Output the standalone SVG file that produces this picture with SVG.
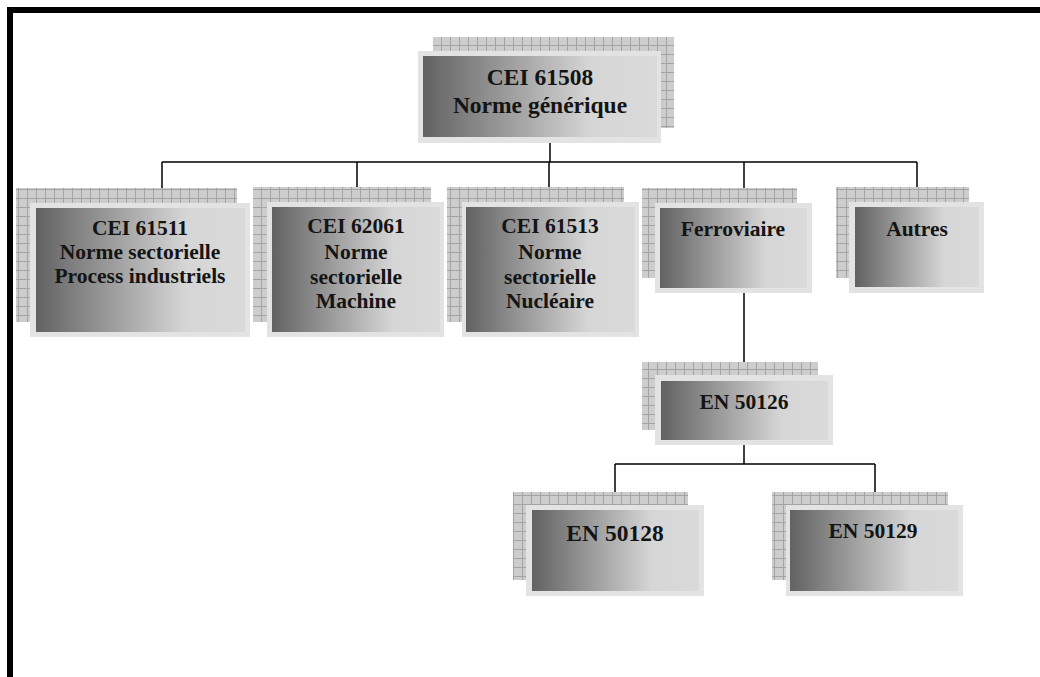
<svg xmlns="http://www.w3.org/2000/svg" width="1040" height="677" viewBox="0 0 1040 677">
<defs>
<pattern id="grid" patternUnits="userSpaceOnUse" width="9" height="9">
<rect width="9" height="9" fill="#cdcdcd"/>
<path d="M0 0.5H9M0.5 0V9" stroke="#a4a4a4" stroke-width="1" fill="none"/>
</pattern>
<linearGradient id="grad" x1="0" y1="0" x2="1" y2="0">
<stop offset="0" stop-color="#626262"/>
<stop offset="0.72" stop-color="#d6d6d6"/>
<stop offset="1" stop-color="#dadada"/>
</linearGradient>
<style>
.sh{fill:url(#grid)}
.ou{fill:#e3e3e3}
.in{fill:url(#grad)}
.t{font-family:"Liberation Serif","Times New Roman",serif;font-weight:bold;fill:#141414;text-anchor:middle;font-size:21.5px}
.c{stroke:#000;stroke-width:1.5;fill:none}
</style>
</defs>
<rect width="1040" height="677" fill="#fff"/>
<path d="M10 677V10H1040" stroke="#000" stroke-width="6" fill="none"/>
<g id="connectors">
<path class="c" d="M550 143V162M162 162H917M162 162V203M357 162V202M549 162V202M744 162V203M917 162V202"/>
<path class="c" d="M744 293V375"/>
<path class="c" d="M744 445V464M615 464H875M615 464V505M875 464V505"/>
</g>
<g id="n-cei61508">
<rect class="sh" x="433" y="37" width="241" height="91"/>
<rect class="ou" x="418" y="51" width="243" height="92"/>
<rect class="in" x="423" y="56" width="234" height="81"/>
<text class="t" x="540" y="85" style="font-size:23.5px">CEI 61508</text>
<text class="t" x="540" y="113" style="font-size:23.5px">Norme générique</text>
</g>
<g id="n-cei61511">
<rect class="sh" x="16" y="188" width="221" height="134"/>
<rect class="ou" x="30" y="203" width="220" height="134"/>
<rect class="in" x="36" y="208" width="209" height="124"/>
<text class="t" x="140" y="235">CEI 61511</text>
<text class="t" x="140" y="259">Norme sectorielle</text>
<text class="t" x="140" y="283">Process industriels</text>
</g>
<g id="n-cei62061">
<rect class="sh" x="253" y="187" width="178" height="135"/>
<rect class="ou" x="267" y="202" width="177" height="135"/>
<rect class="in" x="272" y="207" width="168" height="125"/>
<text class="t" x="356" y="233">CEI 62061</text>
<text class="t" x="356" y="259">Norme</text>
<text class="t" x="356" y="284">sectorielle</text>
<text class="t" x="356" y="308">Machine</text>
</g>
<g id="n-cei61513">
<rect class="sh" x="447" y="187" width="177" height="135"/>
<rect class="ou" x="462" y="202" width="177" height="135"/>
<rect class="in" x="466" y="207" width="169" height="125"/>
<text class="t" x="550" y="233">CEI 61513</text>
<text class="t" x="550" y="259">Norme</text>
<text class="t" x="550" y="284">sectorielle</text>
<text class="t" x="550" y="308">Nucléaire</text>
</g>
<g id="n-ferroviaire">
<rect class="sh" x="642" y="188" width="155" height="90"/>
<rect class="ou" x="655" y="203" width="157" height="90"/>
<rect class="in" x="660" y="208" width="147" height="80"/>
<text class="t" x="733" y="236">Ferroviaire</text>
</g>
<g id="n-autres">
<rect class="sh" x="836" y="187" width="133" height="91"/>
<rect class="ou" x="849" y="202" width="135" height="91"/>
<rect class="in" x="855" y="207" width="124" height="80"/>
<text class="t" x="917" y="236">Autres</text>
</g>
<g id="n-en50126">
<rect class="sh" x="642" y="362" width="176" height="68"/>
<rect class="ou" x="655" y="375" width="178" height="70"/>
<rect class="in" x="661" y="381" width="167" height="59"/>
<text class="t" x="744" y="409">EN 50126</text>
</g>
<g id="n-en50128">
<rect class="sh" x="513" y="492" width="175" height="88"/>
<rect class="ou" x="526" y="505" width="178" height="91"/>
<rect class="in" x="532" y="510" width="167" height="81"/>
<text class="t" x="615" y="541" style="font-size:23.5px">EN 50128</text>
</g>
<g id="n-en50129">
<rect class="sh" x="772" y="492" width="176" height="88"/>
<rect class="ou" x="786" y="505" width="177" height="91"/>
<rect class="in" x="790" y="510" width="168" height="81"/>
<text class="t" x="873" y="538">EN 50129</text>
</g>
</svg>
